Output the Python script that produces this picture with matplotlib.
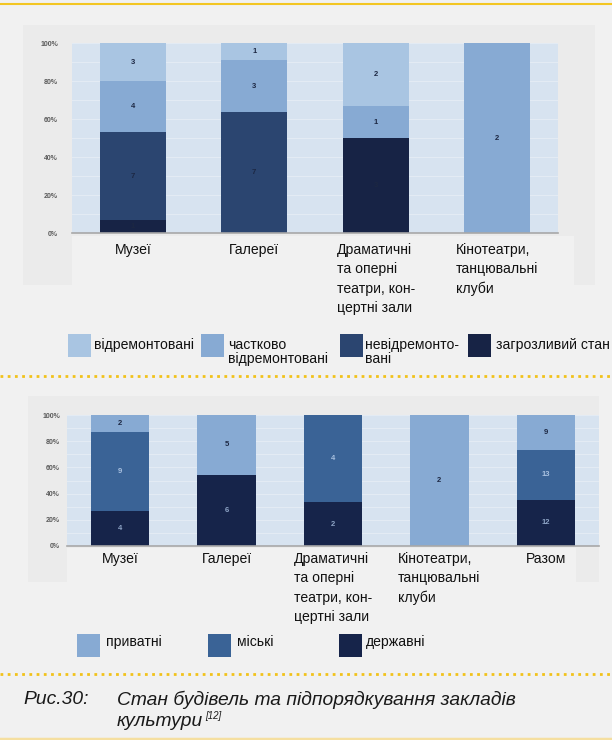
import numpy as np
import matplotlib.pyplot as plt
from matplotlib import font_manager
from matplotlib.patches import Rectangle
from matplotlib.lines import Line2D

W, H = 612, 740

# --- data -------------------------------------------------------------
top_cats = ['Музеї', 'Галереї', 'Драматичні\nта оперні\nтеатри, кон-\nцертні зали',
            'Кінотеатри,\nтанцювальні\nклуби']
top_names = ['відремонтовані', 'частково\nвідремонтовані', 'невідремонто-\nвані', 'загрозливий стан']
top_repaired = [3, 1, 2, 0]
top_partial = [4, 3, 1, 2]
top_unrepaired = [7, 7, 0, 0]
top_danger = [1, 0, 3, 0]

bot_cats = ['Музеї', 'Галереї', 'Драматичні\nта оперні\nтеатри, кон-\nцертні зали',
            'Кінотеатри,\nтанцювальні\nклуби', 'Разом']
bot_names = ['приватні', 'міські', 'державні']
bot_private = [2, 5, 0, 2, 9]
bot_city = [9, 0, 4, 0, 13]
bot_state = [4, 6, 2, 0, 12]

yticks = [0, 20, 40, 60, 80, 100]
ytick_labels = ['0%', '20%', '40%', '60%', '80%', '100%']

caption_num = 'Рис.30:'
caption_lines = ['Стан будівель та підпорядкування закладів', 'культури']
caption_ref = '[12]'

# --- fonts ------------------------------------------------------------
names = {f.name for f in font_manager.fontManager.ttflist}
if 'Liberation Sans Narrow' in names:
    NARROW, NS = 'Liberation Sans Narrow', 1.0
else:
    NARROW, NS = 'Liberation Sans', 0.88
plt.rcParams['font.family'] = ['Liberation Sans', 'DejaVu Sans']

c_light, c_mid, c_dark, c_navy = '#a9c5e2', '#87aad3', '#2b4570', '#172345'
c_city, c_state = '#3a6396', '#16244a'
page = '#f1f1f1'

fig = plt.figure(figsize=(W / 100, H / 100), dpi=100, facecolor=page)


def fx(x):
    return x / W


def fy(y):
    return 1 - y / H


def box(x0, y0, x1, y1, color, z=-10):
    fig.patches.append(Rectangle((fx(x0), fy(y1)), (x1 - x0) / W, (y1 - y0) / H,
                                 transform=fig.transFigure, facecolor=color,
                                 edgecolor='none', zorder=z))


def hline(y, color, ls='-', lw=1.5, x0=0, x1=W):
    fig.lines.append(Line2D([fx(x0), fx(x1)], [fy(y), fy(y)], transform=fig.transFigure,
                            color=color, ls=ls, lw=lw))


def stacked(rect, cats, stacks, colors, txt_colors, width, ypad, xpad):
    x0, y0, x1, y1 = rect
    ax = fig.add_axes([fx(x0), fy(y1), (x1 - x0) / W, (y1 - y0) / H])
    ax.set_facecolor('#d7e3f0')
    x = np.arange(len(cats))
    total = np.sum(stacks, axis=0)
    bottom = np.zeros(len(cats))
    for vals, c, tc in zip(stacks, colors, txt_colors):
        pct = np.array(vals) / total * 100
        ax.bar(x, pct, width, bottom=bottom, color=c, zorder=2)
        for xi, v, p, b in zip(x, vals, pct, bottom):
            if v:
                ax.text(xi, b + p / 2, str(v), ha='center', va='center', fontsize=5.5,
                        fontweight='bold', color=tc, zorder=3)
        bottom += pct
    ax.set_xlim(-0.5, len(cats) - 0.5)
    ax.set_ylim(0, 100)
    ax.set_yticks(yticks, ytick_labels)
    ax.set_yticks(np.arange(10, 100, 20), minor=True)
    ax.grid(axis='y', which='both', color='white', lw=0.8, alpha=0.3, zorder=1)
    ax.tick_params(axis='y', which='both', length=0, pad=xpad, labelsize=5,
                   labelcolor='#5a5a5a')
    for t in ax.get_yticklabels():
        t.set_fontweight('bold')
    ax.set_xticks(x, cats)
    ax.tick_params(axis='x', length=0, pad=ypad)
    for t in ax.get_xticklabels():
        t.set_family([NARROW, 'DejaVu Sans'])
        t.set_fontsize(11.5 * NS)
        t.set_multialignment('left')
        t.set_verticalalignment('top')
        t.set_linespacing(1.5)
        t.set_color('#111111')
    for s in ['top', 'left', 'right']:
        ax.spines[s].set_visible(False)
    ax.spines['bottom'].set_color('#a8a8a8')
    ax.spines['bottom'].set_linewidth(1.2)
    return ax


# background panels
box(23, 25, 595, 285, '#ebebeb')
box(72, 236, 574, 285, page, -9)
box(28, 396, 599, 582, '#ebebeb')
box(67, 548, 576, 582, page, -9)

hline(4, '#f3c623', lw=1.5)
hline(376, '#f2c21a', ls=(0, (1, 1.6)), lw=2)
hline(674, '#f2c21a', ls=(0, (1, 1.6)), lw=2)
hline(739, '#f5dfa0', lw=2.5)

stacked((72, 43, 558, 233), top_cats,
        [top_danger, top_unrepaired, top_partial, top_repaired],
        [c_navy, c_dark, c_mid, c_light],
        ['#1c2742', '#1c2742', '#1c2742', '#1c2742'], 0.54, 7, 10)

stacked((67, 415, 599, 546), bot_cats,
        [bot_state, bot_city, bot_private],
        [c_state, c_city, c_mid],
        ['#8ea4c6', '#a9c1e0', '#1c2742'], 0.55, 4, 5)

# legends
lfont = dict(family=[NARROW, 'DejaVu Sans'], fontsize=11.5 * NS, color='#111111',
             va='top', ha='left', linespacing=1.0)
for name, c, px, tx in zip(top_names, [c_light, c_mid, c_dark, c_navy],
                           [68, 201, 340, 468], [94, 228, 365, 496]):
    box(px, 334, px + 23, 357, c, 1)
    fig.text(fx(tx), fy(338), name, **lfont)

for name, c, px, tx in zip(bot_names, [c_mid, c_city, c_state],
                           [77, 208, 339], [106, 237, 366]):
    box(px, 634, px + 23, 657, c, 1)
    fig.text(fx(tx), fy(635), name, **lfont)

# caption
cfont = dict(style='italic', fontsize=13.9, color='#1a1a1a', va='center', ha='left')
fig.text(fx(23), fy(700), caption_num, **cfont)
fig.text(fx(117), fy(700), caption_lines[0], **cfont)
last = fig.text(fx(117), fy(722), caption_lines[1], **cfont)
fig.canvas.draw()
bb = last.get_window_extent()
fig.text((bb.x1 + 2) / W, fy(716), caption_ref, style='italic', fontsize=7,
         color='#1a1a1a', va='center', ha='left')

fig.savefig('out.png', dpi=100, facecolor=page)
